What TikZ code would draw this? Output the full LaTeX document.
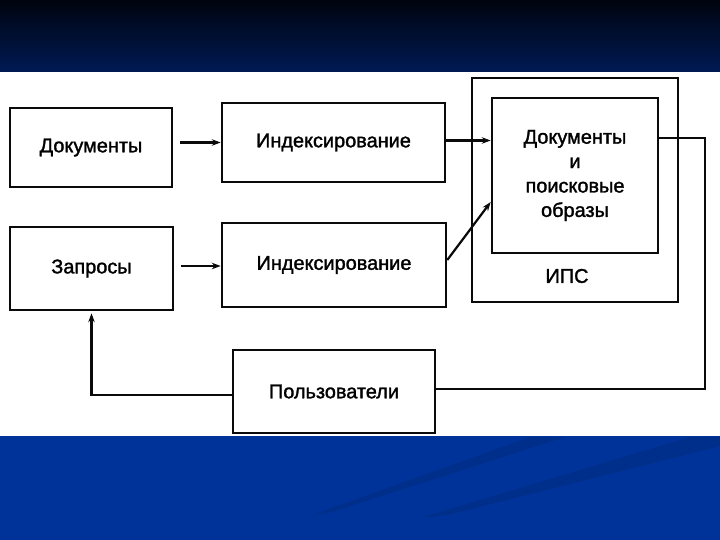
\documentclass[tikz,border=0pt]{standalone}
\usepackage{fontspec}
\setmainfont{Liberation Sans}
\newfontfamily\boxfont[FakeBold=1.5]{Liberation Sans}
\usetikzlibrary{arrows.meta,positioning}
\definecolor{bandTop}{HTML}{00040E}
\definecolor{bandNavy}{HTML}{001A55}
\definecolor{bandBlue}{HTML}{003399}
\definecolor{bandStreak}{HTML}{002C86}
\definecolor{inkLine}{HTML}{0A0A0A}

\begin{document}
\begin{tikzpicture}[
  x=1bp,y=-1bp,
  box/.style={draw=inkLine, line width=2.6bp, fill=white, inner sep=0pt,
    font=\boxfont\fontsize{20}{24.5}\selectfont, align=center},
  lbl/.style={font=\boxfont\fontsize{20}{24.5}\selectfont, align=center},
  flow/.style={-{Stealth[length=9bp,width=6.5bp]}, draw=inkLine, line width=2.2bp},
  wire/.style={draw=inkLine, line width=2.2bp}
]
\useasboundingbox (0,0) rectangle (720,540);
% slide background
\shade[top color=bandTop, bottom color=bandNavy] (0,0) rectangle (720,72);
\fill[white] (0,72) rectangle (720,436);
\fill[bandBlue] (0,436) rectangle (720,540);
\fill[bandStreak, opacity=0.7] (312,515) -- (530,437) -- (565,437) -- (332,512) -- cycle;
\fill[bandStreak, opacity=0.7] (420,518) -- (690,437) -- (720,437) -- (720,446) -- (448,515) -- cycle;

% system frame
\node[box, minimum width=206bp, minimum height=224bp] (ips) at (575,190) {};
\node[lbl] (ipslbl) at (567,276) {ИПС};
\node[box, minimum width=166bp, minimum height=155bp] (store) at (575,175.5)
  {Документы\\и\\поисковые\\образы};

% inputs
\node[box, minimum width=162bp, minimum height=79bp] (docs) at (91,147.5) {Документы};
\node[box, minimum width=223bp, minimum height=79bp] (idxdocs) at (333.5,142.5) {Индексирование};
\node[box, minimum width=163bp, minimum height=83bp] (query) at (91.5,268.5) {Запросы};
\node[box, minimum width=224bp, minimum height=84bp] (idxquery) at (334,265) {Индексирование};
\node[box, minimum width=202bp, minimum height=83bp] (users) at (334,391.5) {Пользователи};

\coordinate (turn) at (705,138);

\draw[flow, shorten <=7bp] (idxdocs.west -| docs.east) -- (idxdocs.west);
\draw[flow, shorten <=7bp] ([yshift=-1bp]idxquery.west -| query.east) -- ([yshift=-1bp]idxquery.west);
\draw[flow] ([yshift=2bp]idxdocs.east) -- ([yshift=2bp]idxdocs.east -| store.west);
\draw[flow] ([yshift=5bp]idxquery.east) -- ([yshift=-26.5bp]store.west);
\draw[wire] (store.east |- turn) -- (turn) |- ([yshift=2.5bp]users.east);
\draw[flow, shorten >=2bp] ([yshift=-3.5bp]users.west) -| (query.south);
\end{tikzpicture}
\end{document}
